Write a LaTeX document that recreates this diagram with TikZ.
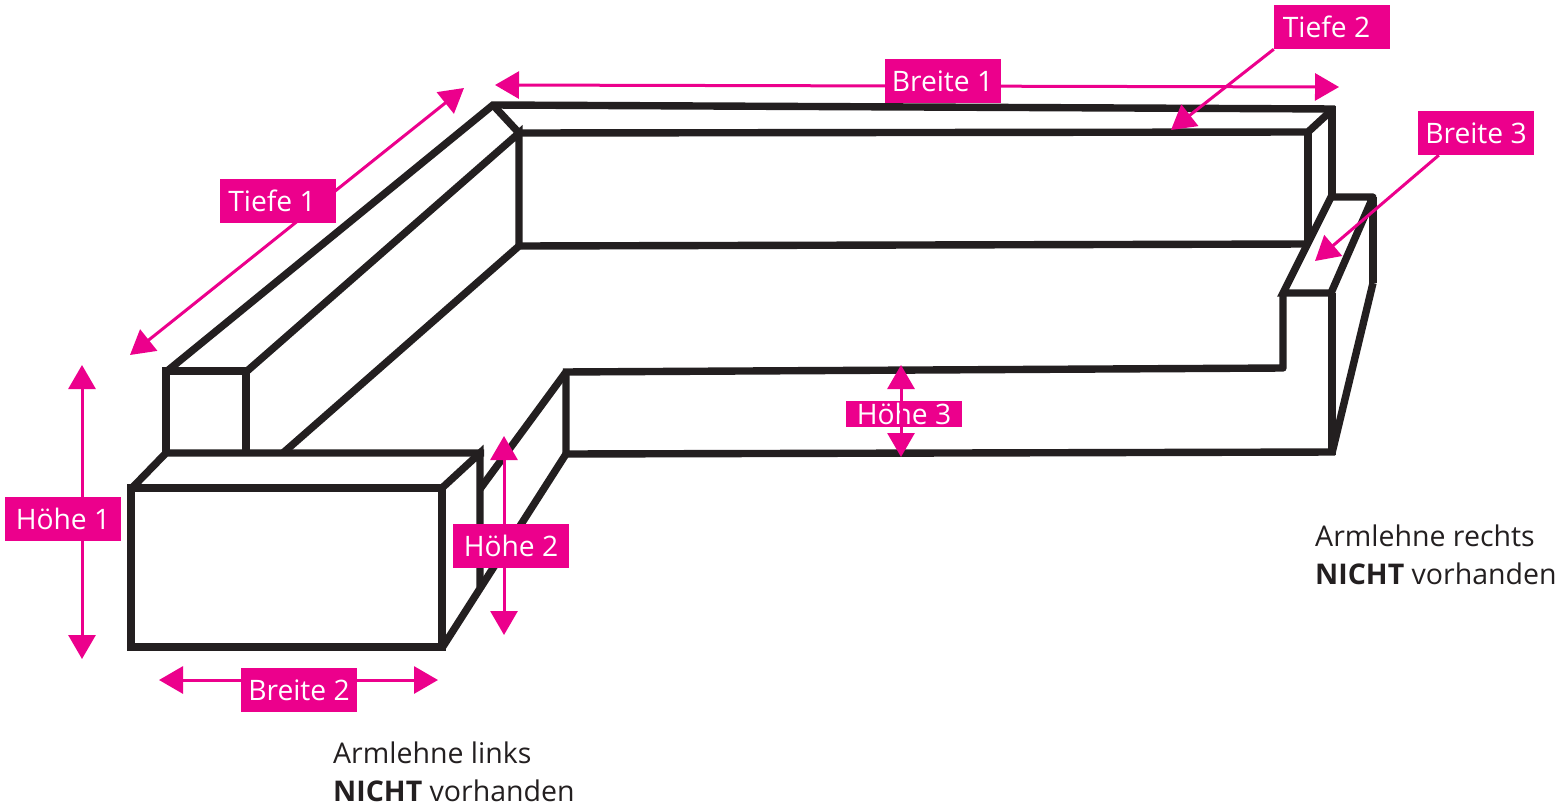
\documentclass[tikz,border=0pt]{standalone}
\usepackage{fontspec}
\setmainfont{Open Sans}
\usetikzlibrary{arrows.meta,backgrounds}
\definecolor{pink}{HTML}{EC008C}
\definecolor{sofa}{HTML}{231F20}
\tikzset{
  sofaline/.style={draw=sofa,line width=7.4pt,line join=miter,line cap=butt},
  dim/.style={draw=pink,line width=3pt,-{Triangle[length=24pt,width=27pt]}},
  dimboth/.style={draw=pink,line width=3pt,{Triangle[length=24pt,width=27pt]}-{Triangle[length=24pt,width=27pt]}},
  tag/.style={fill=pink,text=white,inner sep=0pt,minimum width=116pt,minimum height=44pt,font=\fontsize{28.2}{30}\selectfont},
  note/.style={anchor=west,text=sofa,align=left,inner sep=0pt,font=\fontsize{28.5}{38.5}\selectfont}
}
\begin{document}
\begin{tikzpicture}[x=1pt,y=-1pt]
\useasboundingbox (0,0) rectangle (1558,806);
% labels
\node[tag] (b1) at (942.5,81) {Breite 1};
\node[tag] (t1) at (277.5,201) {Tiefe 1\kern11pt\relax};
\node[tag] (t2) at (1332,27) {Tiefe 2\kern11pt\relax};
\node[tag] (b3) at (1476,133) {Breite 3};
\node[tag] (h1) at (63,518.5) {Höhe 1};
\node[tag] (h2) at (511,545.5) {Höhe 2};
\node[tag,minimum height=26pt] (h3) at (904,414) {Höhe 3};
\node[tag] (b2) at (299,690) {Breite 2};
\node[note] (nr) at (1315,555) {Armlehne rechts\\\textbf{NICHT} vorhanden};
\node[note] (nl) at (333,772) {Armlehne links\\\textbf{NICHT} vorhanden};
% arrow ends
\coordinate (t1a) at (464,88);
\coordinate (t1b) at (130,355);
\coordinate (b1a) at (495,85);
\coordinate (b1b) at (1339,87);
\coordinate (t2a) at (1171,130);
\coordinate (b3a) at (1315,261);
\coordinate (h1a) at (82,365);
\coordinate (h1b) at (82,659);
\coordinate (h2a) at (504,436);
\coordinate (h2b) at (504,635);
\coordinate (h3a) at (901,365);
\coordinate (h3b) at (901,457);
\coordinate (b2a) at (159,680);
\coordinate (b2b) at (438,680);
\begin{scope}[on background layer]
\fill[white] (0,0) rectangle (1558,806);
% sofa back
\draw[sofaline] (166,372) -- (493,105) -- (1335,109);
\draw[sofaline] (1332,106) -- (1332,197);
\draw[sofaline] (493,105) -- (519,133) -- (1308,132) -- (1333,109);
\draw[sofaline] (246,372) -- (519,133) -- (519,249);
\draw[sofaline] (283,453) -- (519,246) -- (1309,244);
\draw[sofaline] (1308,132) -- (1308,241);
% left armrest end
\draw[sofaline] (246,371) -- (166,371) -- (166,456);
\draw[sofaline] (246,368) -- (246,456);
% left block
\draw[sofaline] (131,488) -- (442,488) -- (442,647) -- (131,647) -- cycle;
\draw[sofaline] (131,489) -- (166,453) -- (484,453);
\draw[sofaline] (442,488) -- (480,453) -- (480,587);
\draw[sofaline] (442,648) -- (566,454);
\draw[sofaline] (480,489) -- (566,372);
% seat front
\draw[sofaline,line join=round] (563,372) -- (1283,368) -- (1283,293);
\draw[sofaline] (566,372) -- (566,454) -- (1335,452);
% right armrest
\draw[sofaline] (1332,293) -- (1332,455);
\draw[sofaline] (1332,453) -- (1373,283);
\draw[sofaline] (1373,283) -- (1373,197);
\draw[sofaline,line join=round] (1328,197) -- (1373,197) -- (1331,293);
\draw[sofaline] (1332,195) -- (1283,293) -- (1335,293);
% dimension arrows behind their labels
\draw[dimboth] (t1a) -- (t1b);
\draw[dimboth] (b1a) -- (b1b);
\draw[dim] (t2.south west) -- (t2a);
\draw[dim] ([xshift=21pt]b3.south west) -- (b3a);
\draw[dimboth] (h1a) -- (h1b);
\draw[dimboth] (h2a) -- (h2b);
\draw[dimboth] (b2a) -- (b2b);
\end{scope}
\draw[dimboth] (h3a) -- (h3b);
\end{tikzpicture}
\end{document}
